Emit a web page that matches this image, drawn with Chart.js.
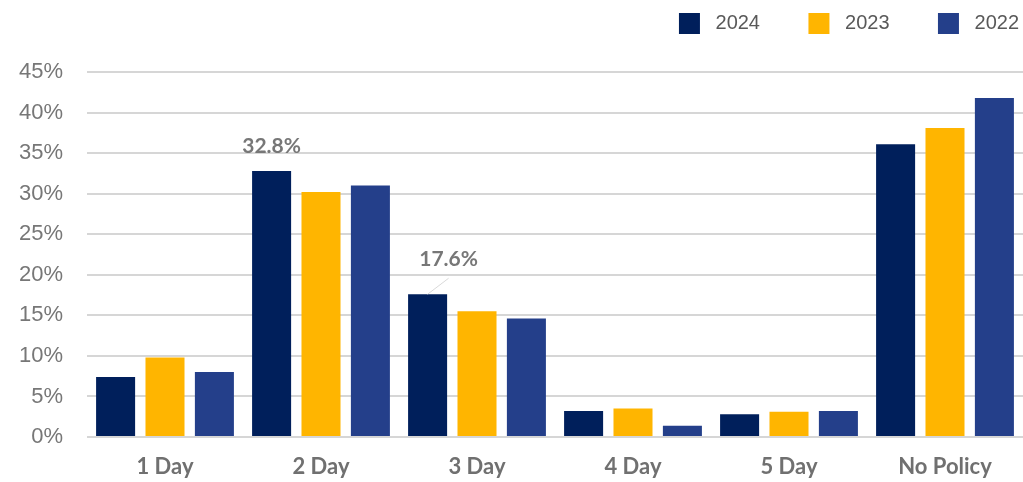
<!DOCTYPE html>
<html>
<head>
<meta charset="utf-8">
<script src="https://cdn.jsdelivr.net/npm/chart.js@4.4.1/dist/chart.umd.min.js"></script>
<style>
  body { margin: 0; background: #fff; }
</style>
</head>
<body>
<canvas id="myChart" width="1023" height="482"></canvas>
<script>
var categories = ["1 Day", "2 Day", "3 Day", "4 Day", "5 Day", "No Policy"];
var years = ["2024", "2023", "2022"];
var data2024 = [7.4, 32.8, 17.6, 3.2, 2.8, 36.1];
var data2023 = [9.8, 30.2, 15.5, 3.5, 3.1, 38.1];
var data2022 = [8.0, 31.0, 14.6, 1.4, 3.2, 41.8];
var yTicks = [0, 5, 10, 15, 20, 25, 30, 35, 40, 45];
// bars of the 2024 series that carry a value label
var labelled2024 = [1, 2];

var colors = ["#001F5B", "#FFB500", "#243F8A"];

// extra room under the legend
var legendSpace = {
    id: "legendSpace",
    beforeInit: function (chart) {
        var fit = chart.legend.fit;
        chart.legend.fit = function () {
            fit.bind(chart.legend)();
            this.height += 28;
        };
    }
};

var valueLabels = {
    id: "valueLabels",
    afterDatasetsDraw: function (chart) {
        var ctx = chart.ctx;
        var meta = chart.getDatasetMeta(0);
        ctx.save();
        ctx.font = "bold 21px Lato";
        ctx.fillStyle = "#777777";
        ctx.textAlign = "center";
        ctx.textBaseline = "middle";
        labelled2024.forEach(function (i) {
            var bar = meta.data[i];
            var text = data2024[i].toFixed(1) + "%";
            if (i === 1) {
                ctx.fillText(text, bar.x, bar.y - 25);
            } else {
                ctx.strokeStyle = "#d9d9d9";
                ctx.lineWidth = 1;
                ctx.beginPath();
                ctx.moveTo(bar.x, bar.y);
                ctx.lineTo(bar.x + 21, bar.y - 16);
                ctx.stroke();
                ctx.fillText(text, bar.x + 21, bar.y - 35);
            }
        });
        ctx.restore();
    }
};

var ctx = document.getElementById("myChart").getContext("2d");
var myBarChart = new Chart(ctx, {
    type: "bar",
    data: {
        labels: categories,
        datasets: [
            { label: years[0], data: data2024, backgroundColor: colors[0] },
            { label: years[1], data: data2023, backgroundColor: colors[1] },
            { label: years[2], data: data2022, backgroundColor: colors[2] }
        ]
    },
    options: {
        responsive: false,
        animation: false,
        devicePixelRatio: 1,
        categoryPercentage: 0.95,
        barPercentage: 0.79,
        layout: { padding: { top: 9, right: 0, bottom: 3, left: 0 } },
        plugins: {
            tooltip: { enabled: false },
            legend: {
                position: "top",
                align: "end",
                labels: {
                    boxWidth: 21,
                    boxHeight: 21,
                    padding: 4,
                    color: "#595959",
                    font: { family: "Liberation Sans", size: 20 },
                    generateLabels: function (chart) {
                        return chart.data.datasets.map(function (ds, i) {
                            var pad = i < chart.data.datasets.length - 1 ? "        " : "";
                            return {
                                text: " " + ds.label + pad,
                                fillStyle: ds.backgroundColor,
                                strokeStyle: ds.backgroundColor,
                                lineWidth: 0,
                                fontColor: "#595959",
                                datasetIndex: i
                            };
                        });
                    }
                }
            }
        },
        scales: {
            x: {
                grid: { display: false, drawTicks: false },
                border: { display: false },
                afterFit: function (scale) {
                    scale.height = 42;
                },
                ticks: {
                    padding: 17,
                    color: "#707070",
                    font: { family: "Lato", size: 22, weight: "bold" }
                }
            },
            y: {
                min: 0,
                max: 45,
                afterBuildTicks: function (scale) {
                    scale.ticks = yTicks.map(function (v) { return { value: v }; });
                },
                afterFit: function (scale) {
                    scale.width = 87;
                },
                border: { display: false },
                grid: { color: "#d6d6d6", lineWidth: 2, drawTicks: false },
                ticks: {
                    padding: 24,
                    color: "#777777",
                    font: { family: "Liberation Sans", size: 22 },
                    callback: function (v) { return v + "%"; }
                }
            }
        }
    },
    plugins: [legendSpace, valueLabels]
});
</script>
</body>
</html>
